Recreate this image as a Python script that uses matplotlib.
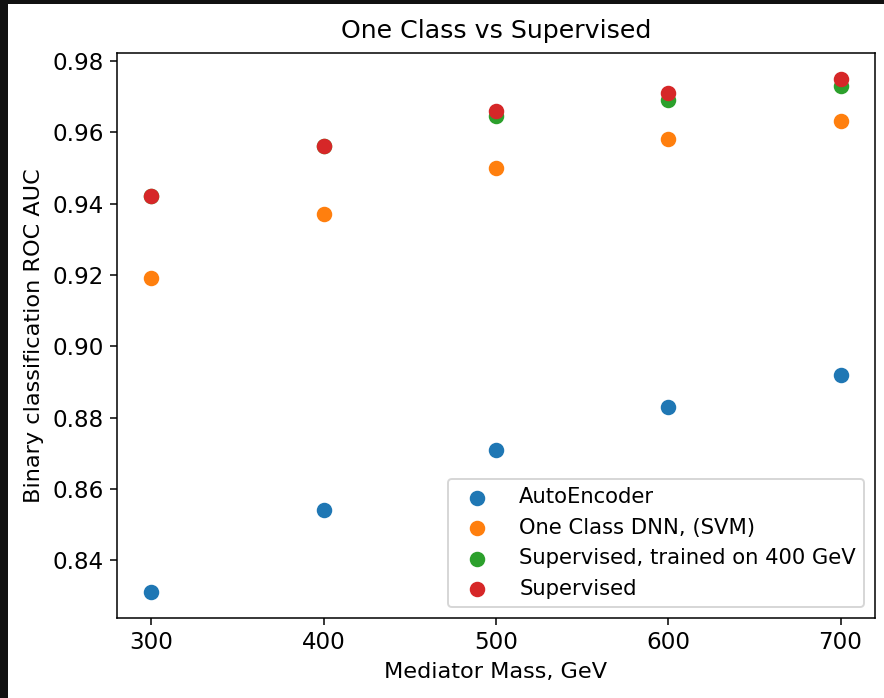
import matplotlib
matplotlib.use("Agg")
import matplotlib.pyplot as plt
from matplotlib.patches import Rectangle
from matplotlib.ticker import MultipleLocator

masses = [300, 400, 500, 600, 700]
autoencoder = [0.831, 0.854, 0.871, 0.883, 0.892]
one_class = [0.919, 0.937, 0.950, 0.958, 0.963]
supervised_400 = [0.942, 0.956, 0.9645, 0.969, 0.973]
supervised = [0.942, 0.956, 0.966, 0.971, 0.975]

series = [
    ("AutoEncoder", autoencoder),
    ("One Class DNN, (SVM)", one_class),
    ("Supervised, trained on 400 GeV", supervised_400),
    ("Supervised", supervised),
]

dpi = 138
fig = plt.figure(figsize=(884 / dpi, 698 / dpi), dpi=dpi, facecolor="#111111")
fig.patches.append(Rectangle((8 / 884, 0), 1, 1 - 4 / 698, transform=fig.transFigure,
                             facecolor="white", edgecolor="none", zorder=-10))
ax = fig.add_axes([117 / 884, 1 - 618 / 698, (875 - 117) / 884, (618 - 53) / 698])
for label, vals in series:
    ax.scatter(masses, vals, s=50, label=label)
ax.xaxis.set_major_locator(MultipleLocator(100))
ax.tick_params(labelsize=12)
ax.set_title("One Class vs Supervised", fontsize=13.2, pad=8)
ax.set_xlabel("Mediator Mass, GeV", fontsize=11.7)
ax.set_ylabel("Binary classification ROC AUC", fontsize=11.7)
ax.legend(loc="lower right", fontsize=11, handletextpad=1.0)
fig.savefig("out.png", dpi=dpi, facecolor=fig.get_facecolor())
